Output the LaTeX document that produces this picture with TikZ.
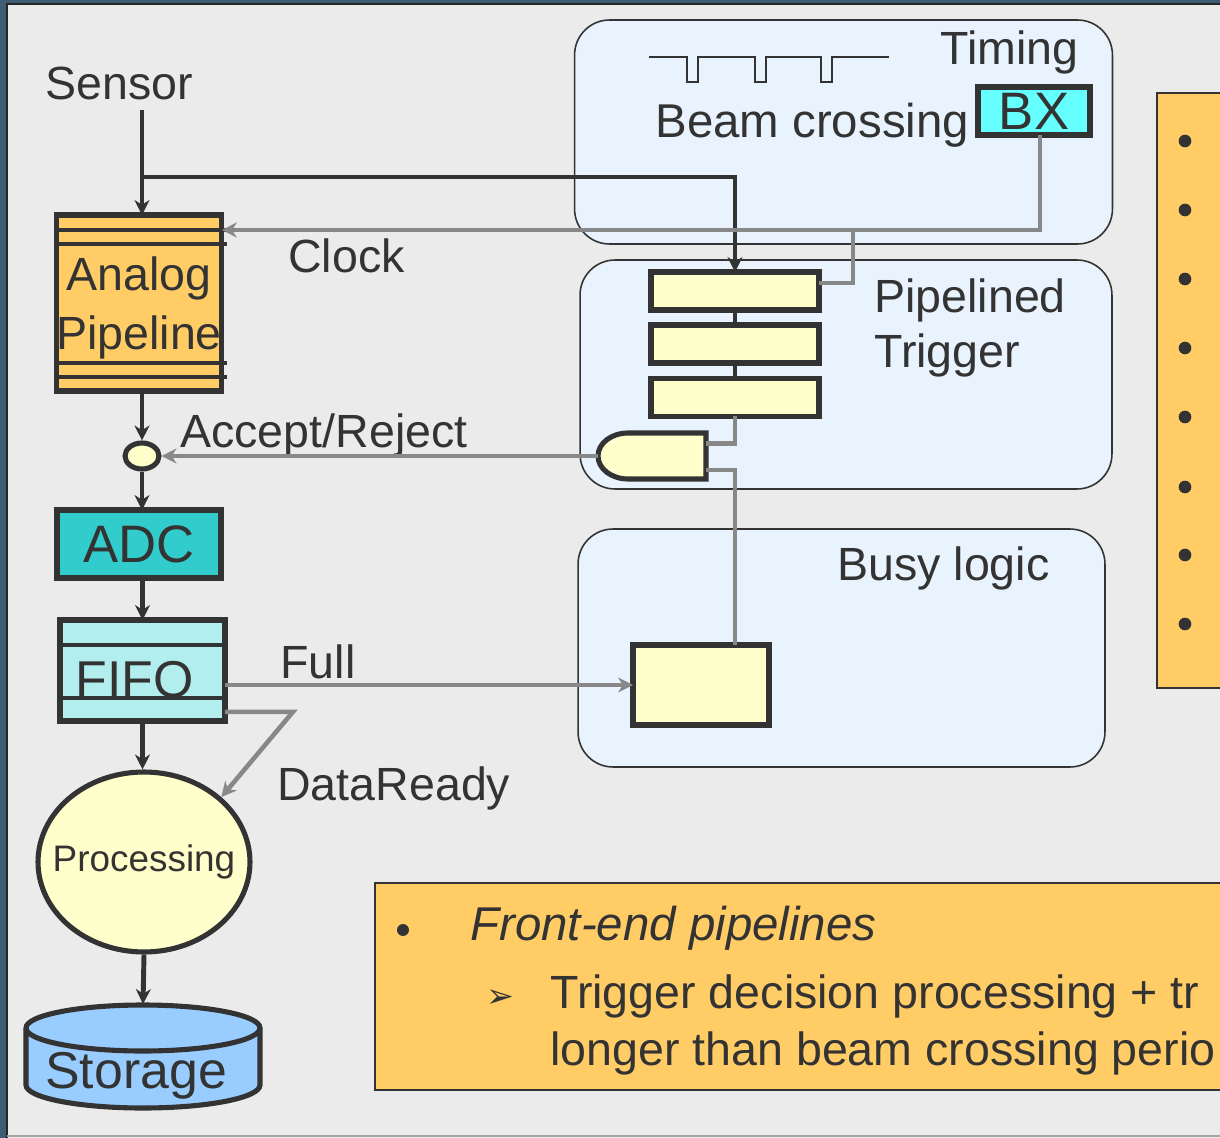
\documentclass[tikz,border=0pt]{standalone}
\usepackage{fontspec}
\setmainfont{Liberation Sans}
\newfontfamily\symfont{DejaVu Sans}
\usepackage{tikz}
\usetikzlibrary{positioning, arrows.meta, shapes.geometric, calc}

\definecolor{ink}{HTML}{333333}
\definecolor{wire}{HTML}{888888}
\definecolor{slide}{HTML}{EBEBEB}
\definecolor{frame}{HTML}{3E5D72}
\definecolor{region}{HTML}{E8F3FD}
\definecolor{amber}{HTML}{FFCC66}
\definecolor{cream}{HTML}{FFFFCC}
\definecolor{aqua}{HTML}{66FFFF}
\definecolor{adcteal}{HTML}{33CCCC}
\definecolor{paleaqua}{HTML}{B2EEEE}
\definecolor{disk}{HTML}{99CCFF}

\begin{document}
\begin{tikzpicture}[x=0.02cm, y=-0.02cm,
  lbl/.style  = {text=ink, inner sep=0, font=\fontsize{26.5}{31.7}\selectfont},
  blk/.style  = {rectangle, draw=ink, line width=2.9pt, inner sep=0,
                 outer sep=0, text=ink, align=center,
                 font=\fontsize{26.5}{33.5}\selectfont},
  area/.style = {rectangle, draw=ink, line width=0.9pt, fill=region,
                 rounded corners=0.7cm, inner sep=0},
  note/.style = {draw=ink, line width=1.1pt, fill=amber},
  dk/.style   = {draw=ink, line width=2.8pt},
  gy/.style   = {draw=wire, line width=2.6pt},
  arr/.style  = {-{Stealth[length=8.5pt,width=8.5pt,inset=2.7pt]}}
]

%── Slide background ─────────────────────────────────────────────
\clip (0,0) rectangle (1220,1138);
\fill[frame] (0,0) rectangle (1220,1138);
\fill[slide] (7,4) rectangle (1220,1138);
\draw[black!85, line width=1.1pt] (7,1138) -- (7,4) -- (1220,4);
\draw[black!35, line width=0.8pt] (7,1136) -- (1220,1136);

%── Orange note boxes ────────────────────────────────────────────
\draw[note] (1157,93) rectangle (1240,688);
\foreach \yy in {141,210,279,348,417,487,555,624}
  \fill[ink] (1185,\yy) circle[radius=3.6pt];

\draw[note] (375,883) rectangle (1240,1090);
\fill[ink] (403,930) circle[radius=3.4pt];
\node[lbl, anchor=base west, font=\fontsize{27}{32}\selectfont\itshape]
  (fep) at (470,940) {Front-end pipelines};
\node[text=ink, inner sep=0, font=\symfont\fontsize{19}{22}\selectfont]
  (sub) at (500,999) {➢};
\node[lbl, anchor=base west] (sub1) at (550,1008)
  {Trigger decision processing + tr};
\node[lbl, anchor=base west] (sub2) at (550,1065)
  {longer than beam crossing perio};

%── Regions ──────────────────────────────────────────────────────
\node[area, minimum width=10.76cm, minimum height=4.48cm] (timing) at (843.5,132) {};
\node[area, minimum width=10.64cm, minimum height=4.58cm] (trig) at (846,374.5) {};
\node[area, minimum width=10.54cm, minimum height=4.76cm] (busy) at (841.5,648) {};

\node[lbl, anchor=base west] (timinglbl) at (940,65) {Timing};
\node[lbl, anchor=base west, font=\fontsize{27}{32}\selectfont] (beamlbl) at (655,138) {Beam crossing};
\node[lbl, anchor=west, align=left] (triglbl) at (874,328) {Pipelined\\Trigger};
\node[lbl, anchor=base west] (busylbl) at (837,580) {Busy logic};

% beam crossing pulses
\draw[ink, line width=0.9pt] (649,57)
  \foreach \p in {687,755,821} { -- (\p,57) -- (\p,82) -- (\p+11,82) -- (\p+11,57) }
  -- (889,57);

%── Blocks ───────────────────────────────────────────────────────
\node[blk, fill=aqua, minimum width=2.24cm, minimum height=0.96cm,
      font=\fontsize{30}{34}\selectfont] (bx) at (1034,111) {BX};

\node[blk, fill=cream, minimum width=3.36cm, minimum height=0.76cm] (tb1) at (735,291) {};
\node[blk, fill=cream, minimum width=3.36cm, minimum height=0.76cm] (tb2) at (735,344) {};
\node[blk, fill=cream, minimum width=3.36cm, minimum height=0.76cm] (tb3) at (735,397.5) {};

\node[inner sep=0, outer sep=0, minimum width=1.56cm, minimum height=0.92cm] (gate) at (667,456) {};
\draw[dk, line width=2.9pt, fill=cream] (gate.north west) -- (gate.north east)
  -- (gate.south east) -- (gate.south west)
  arc[start angle=90, end angle=270, x radius=30, y radius=23] -- cycle;

\node[blk, fill=cream, minimum width=2.72cm, minimum height=1.6cm] (busybox) at (701,685) {};

\node[lbl, anchor=base west] (sensor) at (45,100) {Sensor};
\coordinate (sens) at (142,110);
\coordinate (split) at (142,177);

\node[blk, fill=amber, minimum width=3.28cm, minimum height=3.52cm,
      text depth=0pt] (apipe) at (139,303) {Analog\\Pipeline};
\foreach \yy in {230,244,363,377}
  \draw[dk] (57,\yy) -- (227,\yy);

\node[ellipse, draw=ink, line width=2.9pt, fill=cream, inner sep=0,
      minimum width=0.68cm, minimum height=0.52cm] (acc) at (142,456) {};
\node[lbl, anchor=base west] (acclbl) at (180,447) {Accept/Reject};

\node[blk, fill=adcteal, minimum width=3.28cm, minimum height=1.36cm,
      font=\fontsize{30}{34}\selectfont] (adc) at (139,544) {ADC};

\node[blk, fill=paleaqua, minimum width=3.3cm, minimum height=2.02cm] (fifo) at (142.5,670.5) {};
\node[lbl, anchor=base west, font=\fontsize{29.5}{34}\selectfont] (fifolbl) at (75,697) {FIFO};
\foreach \yy in {645,698}
  \draw[dk] (60,\yy) -- (225,\yy);

\node[lbl, anchor=base west] (fulllbl) at (280,678) {Full};
\node[lbl, anchor=base west] (readylbl) at (277,800) {DataReady};

\node[ellipse, draw=ink, line width=2.9pt, fill=cream, inner sep=0,
      minimum width=4.24cm, minimum height=3.6cm,
      label={[text=ink, font=\fontsize{21}{25}\selectfont]center:Processing}]
      (proc) at (144,862) {};

% storage drum
\draw[dk, line width=2.9pt, fill=disk] (26,1028) -- (26,1085)
  arc[start angle=180, end angle=0, x radius=117, y radius=23] -- (260,1028)
  arc[start angle=0, end angle=-180, x radius=117, y radius=23] -- cycle;
\draw[dk, line width=2.9pt] (26,1028) arc[start angle=180, end angle=0, x radius=117, y radius=23];
\coordinate (storetop) at (143,1004);
\node[lbl, anchor=base west, font=\fontsize{29.5}{34}\selectfont] (store) at (45,1088) {Storage};

%── Dark signal path ─────────────────────────────────────────────
\draw[dk, arr] (sens) -- (sens |- apipe.north);
\draw[dk, arr] (split) -| (tb1.north);
\draw[dk] (tb1.south) -- (tb2.north);
\draw[dk] (tb2.south) -- (tb3.north);
\draw[dk, arr] (acc |- apipe.south) -- (acc.north);
\draw[dk, arr] (acc.south) -- (acc.south |- adc.north);
\draw[dk, arr] (fifo.north |- adc.south) -- (fifo.north);
\draw[dk, arr] (fifo.south) -- (fifo.south |- proc.north);
\draw[dk, arr] (proc.south) -- (storetop);

%── Grey control lines ───────────────────────────────────────────
\coordinate (clkrow) at (0,230);
\coordinate (clkbr) at (853,230);
\draw[gy, arr] ([xshift=3.4pt]bx.south) |- (clkrow -| apipe.east);
\draw[gy] (clkbr) |- ([yshift=4.5pt]tb1.east);
\node[lbl, anchor=base west] (clklbl) at (288,273) {Clock};

\draw[gy] (tb3.south) |- ([yshift=7pt]gate.east);
\draw[gy] ([yshift=-8pt]gate.east) -| (tb3.south |- busybox.north);
\draw[gy, arr] ([xshift=-17pt]gate.west) -- (acc.east);

\draw[gy, arr] (fifo.east |- busybox.west) -- (busybox.west);
\draw[gy, arr] ([yshift=-23.5pt]fifo.east) -- ++(68,0) -- (proc.40);

\end{tikzpicture}
\end{document}
